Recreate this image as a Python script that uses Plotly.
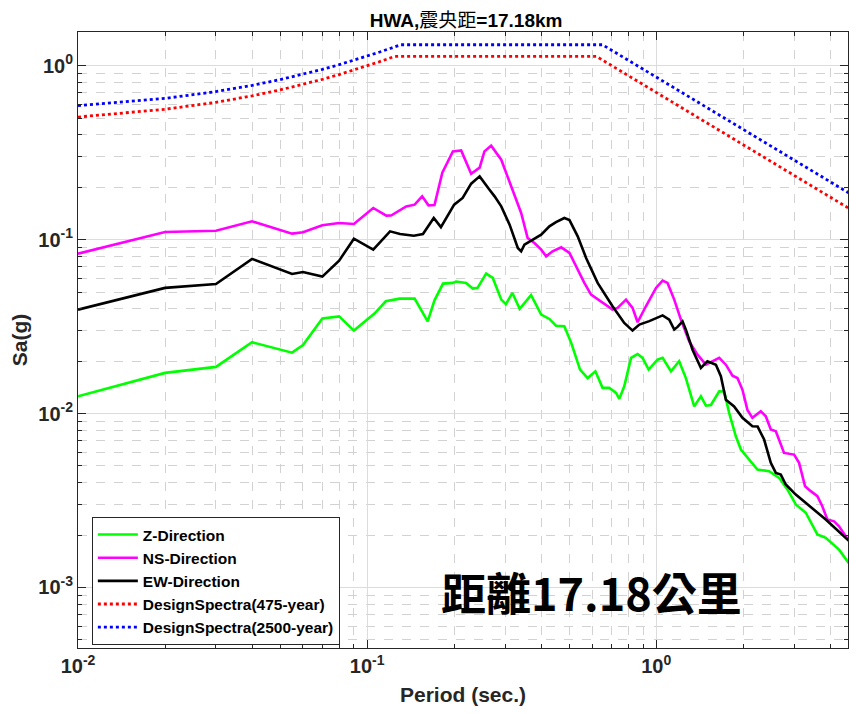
import plotly.graph_objects as go

# response spectra (period in sec, Sa in g)
z_period = [0.01, 0.02, 0.03, 0.04, 0.055, 0.06, 0.07, 0.08, 0.09, 0.106, 0.116, 0.1295,
            0.146, 0.162, 0.171, 0.183, 0.198, 0.203, 0.22, 0.232, 0.241, 0.258, 0.272,
            0.291, 0.302, 0.318, 0.337, 0.369, 0.40, 0.427, 0.45, 0.481, 0.508, 0.545,
            0.579, 0.616, 0.652, 0.688, 0.726, 0.745, 0.775, 0.818, 0.862, 0.897, 0.941,
            1.01, 1.052, 1.124, 1.2, 1.266, 1.353, 1.427, 1.485, 1.545, 1.651, 1.718,
            1.787, 1.885, 1.962, 2.096, 2.238, 2.456, 2.66, 2.842, 3.038, 3.289, 3.608,
            3.857, 4.287, 5.0]
z_sa = [0.01257, 0.01714, 0.01855, 0.0257, 0.0224, 0.0248, 0.0352, 0.0362, 0.030, 0.0376,
        0.0442, 0.0458, 0.0458, 0.0339, 0.0448, 0.0559, 0.0564, 0.0574, 0.0564, 0.0523,
        0.0528, 0.0638, 0.0602, 0.0452, 0.0426, 0.0494, 0.040, 0.048, 0.0371, 0.035,
        0.032, 0.0318, 0.0255, 0.0179, 0.016, 0.0175, 0.01405, 0.01405, 0.01315, 0.01215,
        0.01435, 0.0209, 0.022, 0.0209, 0.0179, 0.0204, 0.0209, 0.0175, 0.020, 0.016,
        0.011, 0.01257, 0.0111, 0.0112, 0.01343, 0.0134, 0.0101, 0.0074, 0.00621,
        0.00544, 0.00477, 0.00466, 0.00427, 0.00366, 0.0030, 0.00269, 0.00202, 0.00193,
        0.00165, 0.00116]

ns_period = [0.01, 0.02, 0.03, 0.04, 0.055, 0.06, 0.07, 0.08, 0.09, 0.105, 0.1165, 0.121,
             0.1365, 0.146, 0.155, 0.163, 0.171, 0.182, 0.198, 0.2115, 0.229, 0.245,
             0.2545, 0.2685, 0.291, 0.315, 0.341, 0.359, 0.379, 0.40, 0.416, 0.438,
             0.469, 0.501, 0.535, 0.564, 0.595, 0.652, 0.706, 0.735, 0.786, 0.828, 0.862,
             0.921, 0.998, 1.052, 1.094, 1.154, 1.217, 1.30, 1.389, 1.485, 1.565, 1.651,
             1.741, 1.835, 1.909, 1.987, 2.067, 2.151, 2.30, 2.393, 2.49, 2.592, 2.767,
             2.997, 3.119, 3.271, 3.423, 3.608, 3.753, 3.906, 4.121, 4.287, 4.521, 5.0]
ns_sa = [0.0831, 0.1107, 0.1126, 0.1274, 0.1083, 0.1102, 0.1209, 0.1247, 0.1231, 0.1521,
         0.1374, 0.1377, 0.1553, 0.1589, 0.1774, 0.1575, 0.158, 0.2427, 0.3218, 0.326,
         0.2395, 0.2594, 0.3218, 0.3469, 0.2883, 0.2024, 0.1423, 0.1023, 0.0957, 0.0876,
         0.0802, 0.0857, 0.0903, 0.0839, 0.0672, 0.0564, 0.0483, 0.0433, 0.0396, 0.0405,
         0.0452, 0.0405, 0.0335, 0.0414, 0.0528, 0.0581, 0.0564, 0.0452, 0.0347, 0.026,
         0.0218, 0.0191, 0.020, 0.0209, 0.0191, 0.0165, 0.016, 0.0137, 0.0105, 0.00945,
         0.0103, 0.00965, 0.00809, 0.00791, 0.00594, 0.00581, 0.00521, 0.00382, 0.00358,
         0.00335, 0.00293, 0.00246, 0.0024, 0.00225, 0.00197, 0.0016]

ew_period = [0.01, 0.02, 0.03, 0.04, 0.055, 0.06, 0.07, 0.08, 0.09, 0.105, 0.12, 0.13,
             0.145, 0.156, 0.17, 0.18, 0.2, 0.214, 0.229, 0.245, 0.265, 0.276, 0.291,
             0.311, 0.332, 0.341, 0.35, 0.374, 0.40, 0.427, 0.45, 0.481, 0.501, 0.535,
             0.572, 0.627, 0.706, 0.775, 0.828, 0.874, 0.946, 1.052, 1.109, 1.154, 1.185,
             1.233, 1.266, 1.335, 1.427, 1.503, 1.608, 1.673, 1.741, 1.859, 1.987, 2.151,
             2.242, 2.361, 2.49, 2.592, 2.696, 2.805, 3.038, 3.857, 5.0]
ew_sa = [0.0396, 0.0528, 0.0556, 0.0775, 0.0635, 0.0652, 0.0613, 0.0757, 0.1013, 0.0876,
         0.1116, 0.1078, 0.1054, 0.1078, 0.1332, 0.118, 0.1589, 0.1737, 0.2099, 0.2311,
         0.1938, 0.1774, 0.1553, 0.122, 0.0896, 0.0857, 0.0936, 0.10, 0.1068, 0.1193,
         0.126, 0.1332, 0.1295, 0.1044, 0.0785, 0.0564, 0.0414, 0.0332, 0.030, 0.0325,
         0.034, 0.0367, 0.0347, 0.0304, 0.0315, 0.0339, 0.0304, 0.0233, 0.0183, 0.020,
         0.0191, 0.0164, 0.012, 0.011, 0.00945, 0.00845, 0.00842, 0.00709, 0.00521,
         0.00456, 0.00446, 0.00391, 0.00342, 0.00246, 0.00165]

# design spectra
ds475_period = [0.01, 0.02, 0.03, 0.04, 0.05, 0.06, 0.07, 0.08, 0.09, 0.10, 0.11, 0.12,
                0.1242, 0.621, 1.0, 2.0, 3.0, 4.0, 5.0]
ds475_sa = [0.507, 0.562, 0.616, 0.671, 0.726, 0.780, 0.835, 0.890, 0.944, 0.999, 1.053,
            1.108, 1.131, 1.131, 0.702, 0.351, 0.234, 0.1755, 0.1404]

ds2500_period = [0.01, 0.02, 0.03, 0.04, 0.05, 0.06, 0.07, 0.08, 0.09, 0.10, 0.11, 0.12,
                 0.1304, 0.652, 1.0, 2.0, 3.0, 4.0, 5.0]
ds2500_sa = [0.589, 0.649, 0.710, 0.771, 0.832, 0.892, 0.953, 1.014, 1.075, 1.135, 1.196,
             1.257, 1.32, 1.32, 0.86, 0.43, 0.287, 0.215, 0.172]

x_ticks = [0.01, 0.1, 1]
x_ticktext = ['10<sup>-2</sup>', '10<sup>-1</sup>', '10<sup>0</sup>']
y_ticks = [0.001, 0.01, 0.1, 1]
y_ticktext = ['10<sup>-3</sup>', '10<sup>-2</sup>', '10<sup>-1</sup>', '10<sup>0</sup>']

axis_col = '#262626'
font = 'Liberation Sans, Arial, sans-serif'

# the page body keeps its default 8px margin, so the figure is sized to fit inside
W, H = 841, 698


def minor_vals(lo, hi):
    out = []
    for e in range(lo, hi):
        for m in range(2, 10):
            out.append(m * 10 ** e)
    return out


fig = go.Figure()
fig.add_trace(go.Scatter(x=z_period, y=z_sa, mode='lines', name='Z-Direction',
                         line=dict(color='#00ff00', width=2.6)))
fig.add_trace(go.Scatter(x=ns_period, y=ns_sa, mode='lines', name='NS-Direction',
                         line=dict(color='#ff00ff', width=2.6)))
fig.add_trace(go.Scatter(x=ew_period, y=ew_sa, mode='lines', name='EW-Direction',
                         line=dict(color='#000000', width=2.6)))
fig.add_trace(go.Scatter(x=ds475_period, y=ds475_sa, mode='lines',
                         name='DesignSpectra(475-year)',
                         line=dict(color='#ff0000', width=2.8, dash='dot')))
fig.add_trace(go.Scatter(x=ds2500_period, y=ds2500_sa, mode='lines',
                         name='DesignSpectra(2500-year)',
                         line=dict(color='#0000ff', width=2.8, dash='dot')))

axis_common = dict(
    type='log', showline=True, linecolor=axis_col, linewidth=1, mirror='ticks',
    ticks='inside', ticklen=8, tickcolor=axis_col, automargin=False,
    showgrid=True, gridcolor='#dcdcdc', gridwidth=1, zeroline=False,
    tickfont=dict(family=font, size=20, color=axis_col, weight='bold'),
    tickmode='array',
)

fig.update_xaxes(
    range=[-2, 0.6632], tickvals=x_ticks, ticktext=x_ticktext,
    title=dict(text='Period (sec.)', standoff=16,
               font=dict(family=font, size=21, color=axis_col, weight='bold')),
    minor=dict(tickvals=minor_vals(-2, 1), ticks='inside', ticklen=4, tickcolor=axis_col,
               showgrid=True, gridcolor='#d2d2d2', griddash='dash', gridwidth=1),
    **axis_common)
fig.update_yaxes(
    range=[-3.348, 0.194], tickvals=y_ticks, ticktext=y_ticktext,
    title=dict(text='Sa(g)', standoff=8,
               font=dict(family=font, size=21, color=axis_col, weight='bold')),
    minor=dict(tickvals=minor_vals(-4, 1), ticks='inside', ticklen=4, tickcolor=axis_col,
               showgrid=True, gridcolor='#d2d2d2', griddash='dash', gridwidth=1),
    **axis_common)

fig.update_layout(
    width=W, height=H,
    margin=dict(l=70, r=1, t=24, b=58),
    paper_bgcolor='white', plot_bgcolor='white',
    title=dict(text='<b>HWA,</b>震央距<b>=17.18km</b>', x=0.504, xref='paper',
               y=1 - 12 / H, yref='container', xanchor='center', yanchor='middle',
               font=dict(family=font + ', Noto Sans CJK TC', size=19, color='#000000')),
    legend=dict(x=0.018, y=0.2127, xanchor='left', yanchor='top',
                bgcolor='white', bordercolor=axis_col, borderwidth=1, itemwidth=40,
                font=dict(family=font, size=15.5, color='#000000', weight='bold'),
                tracegroupgap=0),
    showlegend=True,
)

fig.add_annotation(text='距離17.18公里', xref='paper', yref='paper',
                   x=0.6675, y=0.0914, xanchor='center', yanchor='middle',
                   showarrow=False,
                   font=dict(family='Noto Sans CJK TC', size=45, color='#000000',
                             weight='bold'))

fig.write_html('out.html')
